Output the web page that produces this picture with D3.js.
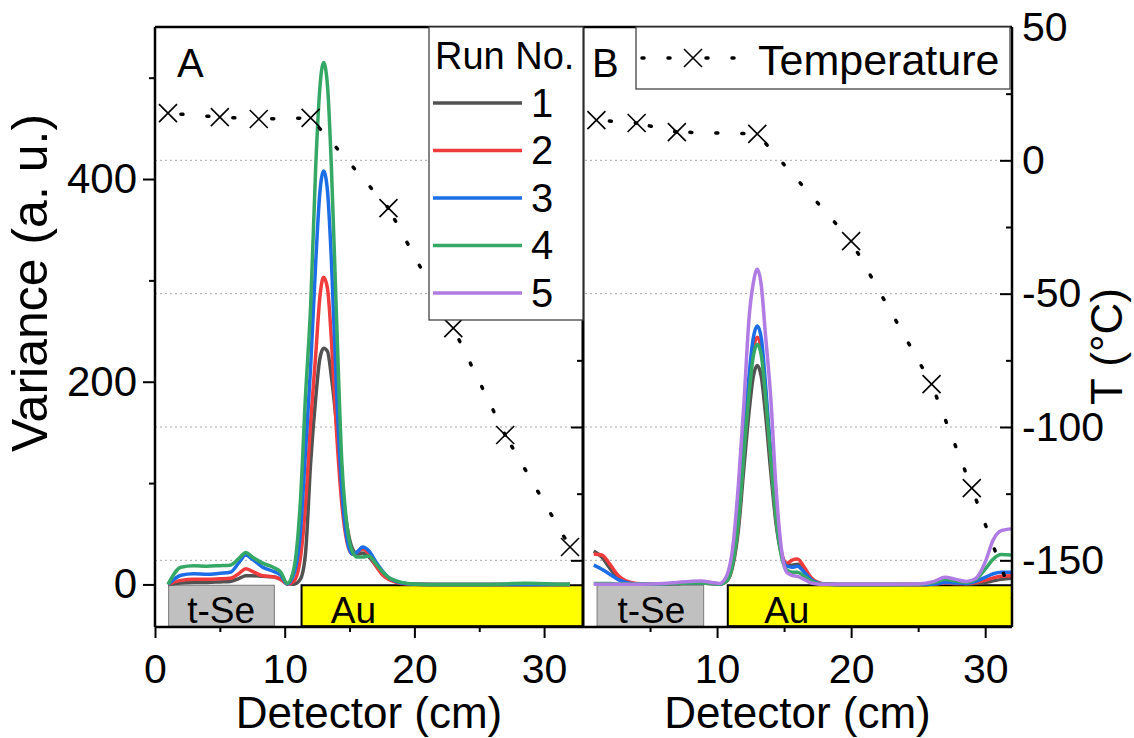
<!DOCTYPE html>
<html>
<head>
<meta charset="utf-8">
<script src="https://cdn.jsdelivr.net/npm/d3@7"></script>
<style>
  body { margin: 0; background: #fff; }
  svg text { font-family: "Liberation Sans", Arial, sans-serif; fill: #000; }
</style>
</head>
<body>
<svg id="chart" width="1134" height="738"></svg>
<script>
// ---- data -------------------------------------------------------------
const runNames = ["1", "2", "3", "4", "5"];
const runColors = ["#525252", "#f03c3c", "#1d6ee6", "#36a866", "#b07be3"];

// Panel A: detector position (cm) and variance per run
const detA = [1, 2, 3, 4, 5, 5.8, 6.5, 7, 7.5, 8.3, 9.1, 9.7, 10.2, 10.7, 11.2, 11.6, 12, 12.4, 12.7, 13,
  13.3, 13.6, 14, 14.4, 14.8, 15.2, 15.6, 16, 16.5, 17, 17.5, 18, 18.5, 19, 20, 22, 25, 27, 28.5, 29.5, 31, 32];
const varA1 = [0, 1.5, 2, 2, 2.5, 3, 6, 8.5, 8.5, 8, 7.5, 5, 1, 0.3, 5, 30, 120, 185, 222, 233,
  230, 205, 158, 100, 58, 36, 30, 31, 27, 19, 11, 6, 3, 1.5, 0.3, 0, 0, 0, 0, 0, 0, 0];
const varA2 = [0, 4, 5, 5, 5.5, 6, 11, 15.5, 13, 8.5, 7.5, 5, 0.3, 3, 25, 78, 160, 228, 282, 303,
  292, 242, 150, 80, 42, 30, 32, 35, 30, 19, 10, 5, 2.5, 1, 0.2, 0, 0, 0, 0, 0, 0, 0];
const varA3 = [0, 9, 10.5, 10, 11, 12, 22, 29, 25, 17, 13, 9, 0.5, 10, 50, 130, 215, 320, 385, 408,
  388, 320, 190, 95, 45, 30, 32, 37, 33, 23, 14, 7, 3.5, 1.5, 0.3, 0, 0, 0, 0, 0, 0, 0];
const varA4 = [0, 17, 18.5, 18, 18.5, 19, 26, 31.5, 27, 21, 17, 12, 1, 15, 80, 185, 275, 415, 488, 515,
  492, 412, 262, 122, 58, 33, 27, 27, 28, 21, 13, 7, 4, 2, 0.5, 0, 0, 0.5, 1.2, 1, 0.3, 0.3];

// Panel B: detector position (cm) and variance per run
const detB = [0.8, 1.4, 2, 2.6, 3.2, 4, 5, 6, 7, 8, 8.8, 9.6, 10.2, 10.7, 11.2, 11.6, 12, 12.4, 12.7, 13,
  13.3, 13.6, 14, 14.4, 14.8, 15.2, 15.6, 16, 16.5, 17, 17.5, 18, 20, 23, 25, 26.2, 27, 27.8, 28.6, 29.3,
  30, 30.6, 31.2, 32];
const varB1 = [33, 27, 16, 7, 2.5, 0.5, 0.5, 0.5, 1, 1.5, 1.5, 1, 0.3, 3, 20, 55, 115, 172, 205, 216,
  205, 170, 112, 60, 30, 19, 19, 20, 14, 6, 2, 0.5, 0, 0, 0, 0.5, 1.5, 1, 0.5, 1, 2, 3.5, 5, 6];
const varB2 = [30, 29, 20, 9, 3.5, 1, 0.5, 0.5, 1, 1.5, 1.5, 1, 0.3, 3, 22, 62, 132, 195, 232, 244,
  232, 190, 125, 65, 32, 21, 24, 25, 17, 7, 2, 0.5, 0, 0, 0, 0.5, 1.5, 1, 1, 2, 4, 6.5, 8, 8.5];
const varB3 = [19, 15, 10, 5, 2, 0.5, 0.5, 0.5, 1, 1.5, 1.5, 1, 0.3, 4, 26, 70, 142, 208, 243, 255,
  243, 200, 130, 68, 31, 18, 17, 18, 12, 5, 1.5, 0.3, 0, 0, 0, 0.5, 2, 1.5, 1, 3, 7, 10.5, 12, 12];
const varB4 = [1, 1, 0.8, 0.5, 0.5, 0.5, 0.5, 0.5, 1, 1.5, 1.5, 1, 0.3, 3, 22, 62, 128, 190, 225, 237,
  226, 188, 125, 65, 28, 14, 12, 12, 8, 3.5, 1, 0.3, 0, 0, 0.3, 2, 5, 3.5, 2, 5, 15, 25, 29.5, 29];
const varB5 = [0.5, 0.3, 0.3, 0.3, 0.3, 0.3, 0.5, 1, 2, 3, 3.5, 2, 1, 8, 40, 100, 178, 265, 297, 311,
  295, 248, 185, 95, 35, 12, 9, 8, 5, 1.5, 0.5, 0.3, 0.3, 0.3, 0.5, 3, 7, 5, 3, 6, 22, 44, 53, 55];

// Temperature along the detector (°C)
const tempPosA = [1, 5, 8, 12, 18, 23, 27, 32];
const tempA = [17.7, 16.2, 15.5, 15.9, -17.9, -62.9, -103, -145];
const tempPosB = [1, 4, 7, 13, 20, 26, 29, 33];
const tempB = [15.1, 14, 10.6, 9.9, -30.3, -83.9, -122.9, -177];

// Deposit zones along the detector
const zoneLabels = ["t-Se", "Au"];
const zoneFillColors = ["#c0c0c0", "#ffff00"];
const zoneStartA = [1.05, 11.3];
const zoneEndA = [9.2, 33];
const zoneTextA = [5.1, 15.3];
const zoneStartB = [1.05, 10.8];
const zoneEndB = [9.0, 32];
const zoneTextB = [5.1, 15.2];

// Axis ticks
const varMajor = [0, 200, 400], varMinor = [100, 300, 500];
const detMajorA = [0, 10, 20, 30], detMajorB = [10, 20, 30], detMinor = [5, 15, 25];
const tMajor = [50, 0, -50, -100, -150], tMinor = [25, -25, -75, -125];

// ---- layout -----------------------------------------------------------
const svg = d3.select("#chart");
const plotTop = 27, plotBottom = 627;
const aL = 155, aR = 583, bL = 583, bR = 1012;
const plain = d => String(d);   // ASCII hyphen for negative labels

const xA = d3.scaleLinear().domain([0, 33]).range([aL, aR]);
const xB = d3.scaleLinear().domain([0, 32]).range([bL, bR]);
const yV = d3.scaleLinear().domain([-42, 550]).range([plotBottom, plotTop]);
const yT = d3.scaleLinear().domain([-175, 50]).range([plotBottom, plotTop]);

const defs = svg.append("defs");
defs.append("clipPath").attr("id", "clipA").append("rect")
  .attr("x", aL).attr("y", plotTop).attr("width", aR - aL).attr("height", plotBottom - plotTop);
defs.append("clipPath").attr("id", "clipB").append("rect")
  .attr("x", bL).attr("y", plotTop).attr("width", bR - bL).attr("height", plotBottom - plotTop);

// dotted grid at the labelled temperatures
svg.append("g").selectAll("line").data(tMajor.filter(t => t > -175 && t < 50)).join("line")
  .attr("x1", aL).attr("x2", bR)
  .attr("y1", d => yT(d)).attr("y2", d => yT(d))
  .attr("stroke", "#a8a8a8").attr("stroke-width", 1).attr("stroke-dasharray", "2,3");

function drawPanel(id, x, det, series, zoneStart, zoneEnd, zoneText, tPos, tVal) {
  const g = svg.append("g").attr("clip-path", `url(#${id})`);

  // zones below zero
  zoneLabels.forEach((lab, i) => {
    g.append("rect")
      .attr("x", x(zoneStart[i])).attr("width", x(zoneEnd[i]) - x(zoneStart[i]))
      .attr("y", yV(-0.8)).attr("height", yV(-41.2) - yV(-0.8))
      .attr("fill", zoneFillColors[i])
      .attr("stroke", i === 0 ? "#7a7a7a" : "#000")
      .attr("stroke-width", i === 0 ? 1 : 2);
    g.append("text").attr("x", x(zoneText[i])).attr("y", 623)
      .attr("text-anchor", "middle").attr("font-size", 37).text(lab);
  });

  // variance curves
  const line = d3.line().x((d, i) => x(det[i])).y(d => yV(d)).curve(d3.curveMonotoneX);
  series.forEach(s => {
    g.append("path").datum(s.values).attr("d", line)
      .attr("fill", "none").attr("stroke", runColors[s.run])
      .attr("stroke-width", 3.5).attr("stroke-linejoin", "round");
  });

  // temperature: dotted segments between measured points
  const pts = tPos.map((p, i) => [x(p), yT(tVal[i])]);
  for (let i = 0; i < pts.length - 1; i++) {
    g.append("path").attr("d", d3.line()([pts[i], pts[i + 1]]))
      .attr("fill", "none").attr("stroke", "#000").attr("stroke-width", 3.5)
      .attr("stroke-linecap", "round").attr("stroke-dasharray", "2,24")
      .attr("stroke-dashoffset", 13);
  }
  g.append("g").selectAll("path").data(pts).join("path")
    .attr("transform", d => `translate(${d[0]},${d[1]})`)
    .attr("d", "M-9,-9L9,9M-9,9L9,-9")
    .attr("fill", "none").attr("stroke", "#000").attr("stroke-width", 1.6);
}

drawPanel("clipA", xA, detA,
  [{run: 0, values: varA1}, {run: 1, values: varA2}, {run: 2, values: varA3}, {run: 3, values: varA4}],
  zoneStartA, zoneEndA, zoneTextA, tempPosA, tempA);
drawPanel("clipB", xB, detB,
  [{run: 0, values: varB1}, {run: 1, values: varB2}, {run: 2, values: varB3}, {run: 3, values: varB4}, {run: 4, values: varB5}],
  zoneStartB, zoneEndB, zoneTextB, tempPosB, tempB);

// ---- axes ---------------------------------------------------------------
function styleAxis(g, size) {
  g.select(".domain").remove();
  g.attr("font-family", "Liberation Sans, Arial, sans-serif").attr("font-size", size);
  g.selectAll(".tick line").attr("stroke", "#000").attr("stroke-width", 2);
  g.selectAll(".tick text").attr("fill", "#000");
}

svg.append("g").attr("transform", `translate(${aL},0)`)
  .call(d3.axisLeft(yV).tickValues(varMajor).tickFormat(plain).tickSize(12).tickPadding(6))
  .call(g => styleAxis(g, 42));
svg.append("g").attr("transform", `translate(${aL},0)`)
  .call(d3.axisLeft(yV).tickValues(varMinor).tickSize(6).tickFormat(""))
  .call(g => styleAxis(g, 42));

svg.append("g").attr("transform", `translate(0,${plotBottom})`)
  .call(d3.axisBottom(xA).tickValues(detMajorA).tickFormat(plain).tickSize(11).tickPadding(16))
  .call(g => styleAxis(g, 41));
svg.append("g").attr("transform", `translate(0,${plotBottom})`)
  .call(d3.axisBottom(xA).tickValues(detMinor).tickSize(5).tickFormat(""))
  .call(g => styleAxis(g, 41));
svg.append("g").attr("transform", `translate(0,${plotBottom})`)
  .call(d3.axisBottom(xB).tickValues(detMajorB).tickFormat(plain).tickSize(11).tickPadding(16))
  .call(g => styleAxis(g, 41));
svg.append("g").attr("transform", `translate(0,${plotBottom})`)
  .call(d3.axisBottom(xB).tickValues(detMinor).tickSize(5).tickFormat(""))
  .call(g => styleAxis(g, 41));

// temperature axis on the right, ticks pointing inward
svg.append("g").attr("transform", `translate(${bR},0)`)
  .call(d3.axisRight(yT).tickValues(tMajor).tickFormat(plain).tickSizeInner(-12).tickSizeOuter(0).tickPadding(10))
  .call(g => styleAxis(g, 41));
svg.append("g").attr("transform", `translate(${bR},0)`)
  .call(d3.axisRight(yT).tickValues(tMinor).tickSizeInner(-6).tickSizeOuter(0).tickFormat(""))
  .call(g => styleAxis(g, 41));
// matching temperature ticks on the right edge of panel A
svg.append("g").attr("transform", `translate(${aR},0)`)
  .call(d3.axisRight(yT).tickValues(tMajor.slice(1)).tickSizeInner(-12).tickSizeOuter(0).tickFormat(""))
  .call(g => styleAxis(g, 41));
svg.append("g").attr("transform", `translate(${aR},0)`)
  .call(d3.axisRight(yT).tickValues(tMinor).tickSizeInner(-6).tickSizeOuter(0).tickFormat(""))
  .call(g => styleAxis(g, 41));

// frame
const frame = svg.append("g").attr("stroke", "#000").attr("stroke-width", 2.5).attr("fill", "none");
frame.append("line").attr("x1", aL).attr("x2", bR).attr("y1", plotTop).attr("y2", plotTop);
frame.append("line").attr("x1", aL).attr("x2", bR).attr("y1", plotBottom).attr("y2", plotBottom);
frame.append("line").attr("x1", aL).attr("x2", aL).attr("y1", plotTop).attr("y2", plotBottom);
frame.append("line").attr("x1", aR).attr("x2", aR).attr("y1", plotTop).attr("y2", plotBottom).attr("stroke-width", 3);
frame.append("line").attr("x1", bR).attr("x2", bR).attr("y1", plotTop).attr("y2", plotBottom);

// axis titles
svg.append("text").attr("transform", "translate(47,283) rotate(-90)")
  .attr("text-anchor", "middle").attr("font-size", 50).text("Variance (a. u.)");
svg.append("text").attr("x", (aL + aR) / 2).attr("y", 728)
  .attr("text-anchor", "middle").attr("font-size", 44).text("Detector (cm)");
svg.append("text").attr("x", (bL + bR) / 2).attr("y", 728)
  .attr("text-anchor", "middle").attr("font-size", 44).text("Detector (cm)");
svg.append("text").attr("transform", "translate(1122,405) rotate(-90)")
  .attr("text-anchor", "start").attr("font-size", 44).text("T (°C)");

// panel letters
svg.append("text").attr("x", 177).attr("y", 77).attr("font-size", 40).text("A");
svg.append("text").attr("x", 592).attr("y", 77).attr("font-size", 40).text("B");

// ---- legends ------------------------------------------------------------
const legA = svg.append("g");
legA.append("rect").attr("x", 429).attr("y", plotTop).attr("width", aR - 429).attr("height", 293)
  .attr("fill", "#fff").attr("stroke", "#444").attr("stroke-width", 1.3);
legA.append("text").attr("x", 435).attr("y", 69).attr("font-size", 38).text("Run No.");
runNames.forEach((name, i) => {
  const y = 103 + i * 47.5;
  legA.append("line").attr("x1", 433).attr("x2", 522).attr("y1", y).attr("y2", y)
    .attr("stroke", runColors[i]).attr("stroke-width", 3.5);
  legA.append("text").attr("x", 531).attr("y", y + 13.5).attr("font-size", 40).text(name);
});

const legB = svg.append("g");
legB.append("rect").attr("x", 636).attr("y", plotTop).attr("width", 374).attr("height", 62)
  .attr("fill", "#fff").attr("stroke", "#444").attr("stroke-width", 1.3);
[[640, 693, 24], [693, 742, 13]].forEach(([x1, x2, off]) => {
  legB.append("line").attr("x1", x1).attr("x2", x2).attr("y1", 58).attr("y2", 58)
    .attr("stroke", "#000").attr("stroke-width", 3.5).attr("stroke-linecap", "round")
    .attr("stroke-dasharray", "2,24").attr("stroke-dashoffset", off);
});
legB.append("path").attr("transform", "translate(693,58)").attr("d", "M-9,-9L9,9M-9,9L9,-9")
  .attr("fill", "none").attr("stroke", "#000").attr("stroke-width", 1.6);
legB.append("text").attr("x", 758).attr("y", 75).attr("font-size", 43).text("Temperature");
</script>
</body>
</html>
